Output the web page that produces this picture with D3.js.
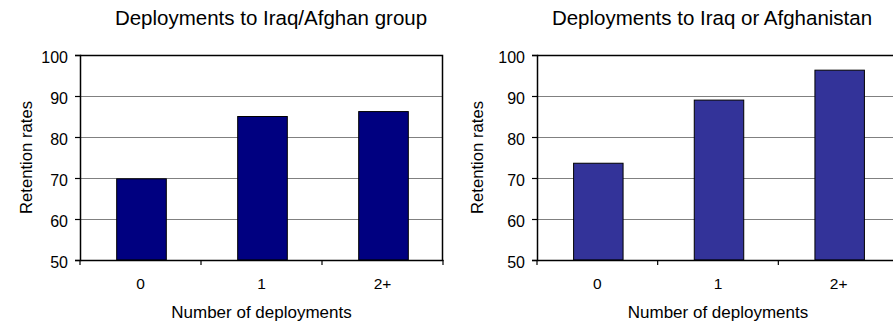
<!DOCTYPE html>
<html>
<head>
<meta charset="utf-8">
<script src="https://cdn.jsdelivr.net/npm/d3@7"></script>
<style>
  html, body { margin: 0; padding: 0; background: #fff; overflow: hidden; }
  svg { display: block; font-family: "Liberation Sans", Arial, sans-serif; }
</style>
</head>
<body>
<svg id="chart" width="893" height="328"></svg>
<script>
// Retention rates by number of deployments
const categories = ["0", "1", "2+"];
const groupValues = [69.8, 85.0, 86.2];       // Deployments to Iraq/Afghan group
const eitherValues = [73.6, 89.0, 96.3];      // Deployments to Iraq or Afghanistan
const yTicks = [50, 60, 70, 80, 90, 100];
const titles = ["Deployments to Iraq/Afghan group", "Deployments to Iraq or Afghanistan"];
const xTitle = "Number of deployments";
const yTitle = "Retention rates";

const svg = d3.select("#chart");

const panels = [
  { title: titles[0], values: groupValues, color: "#000080", left: 80, right: 443, titleX: 271, yTitleX: 32 },
  { title: titles[1], values: eitherValues, color: "#333399", left: 537, right: 899, titleX: 712, yTitleX: 483 }
];

const plotTop = 55, plotBottom = 260;

panels.forEach(p => {
  const w = p.right - p.left;
  const h = plotBottom - plotTop;
  const g = svg.append("g").attr("transform", `translate(${p.left},${plotTop})`);

  const x = d3.scaleBand().domain(categories).range([0, w]).padding(0);
  const y = d3.scaleLinear().domain([50, 100]).range([h, 0]);

  // horizontal gridlines
  g.append("g")
    .selectAll("line")
    .data(yTicks.filter(v => v > 50 && v < 100))
    .join("line")
    .attr("x1", 0).attr("x2", w)
    .attr("y1", d => Math.round(y(d)) + 0.5).attr("y2", d => Math.round(y(d)) + 0.5)
    .attr("stroke", "#808080").attr("stroke-width", 1.2);

  // bars
  const barFrac = 0.41;
  g.append("g")
    .selectAll("rect")
    .data(p.values)
    .join("rect")
    .attr("x", (d, i) => x(categories[i]) + x.bandwidth() * (1 - barFrac) / 2 + 1)
    .attr("width", x.bandwidth() * barFrac)
    .attr("y", d => y(d))
    .attr("height", d => y(50) - y(d))
    .attr("fill", p.color)
    .attr("stroke", "#000")
    .attr("stroke-width", 1);

  // plot frame: top and right edges
  g.append("path")
    .attr("d", `M0,0.5H${w - 0.5}V${h}`)
    .attr("fill", "none").attr("stroke", "#000").attr("stroke-width", 1.5);

  // y axis
  const yAxis = g.append("g")
    .call(d3.axisLeft(y).tickValues(yTicks).tickSize(5).tickPadding(7).tickFormat(d3.format("d")));
  yAxis.select(".domain").attr("stroke", "#000").attr("stroke-width", 1.5);
  yAxis.selectAll(".tick line").attr("stroke", "#000").attr("stroke-width", 1.2);
  yAxis.selectAll(".tick text")
    .attr("font-size", 16).attr("fill", "#000")
    .attr("dy", "0.45em")
    .attr("font-family", "Liberation Sans, Arial, sans-serif");

  // x axis with category labels
  const xAxis = g.append("g")
    .attr("transform", `translate(0,${h})`)
    .call(d3.axisBottom(x).tickSize(0).tickPadding(18));
  xAxis.select(".domain").attr("stroke", "#000").attr("stroke-width", 1.5);
  xAxis.selectAll(".tick text")
    .attr("font-size", 15.5).attr("fill", "#000")
    .attr("font-family", "Liberation Sans, Arial, sans-serif");

  // x tick marks at category boundaries
  const bounds = categories.map(c => x(c)).concat([w]);
  g.append("g")
    .selectAll("line")
    .data(bounds)
    .join("line")
    .attr("x1", d => d).attr("x2", d => d)
    .attr("y1", h).attr("y2", h + 5)
    .attr("stroke", "#000").attr("stroke-width", 1.2);

  // axis titles
  svg.append("text")
    .attr("x", p.left + w / 2).attr("y", 318)
    .attr("text-anchor", "middle")
    .attr("font-size", 17)
    .text(xTitle);

  svg.append("text")
    .attr("transform", `translate(${p.yTitleX},${plotTop + h / 2}) rotate(-90)`)
    .attr("text-anchor", "middle")
    .attr("font-size", 16.7)
    .text(yTitle);

  // chart title
  svg.append("text")
    .attr("x", p.titleX).attr("y", 25)
    .attr("text-anchor", "middle")
    .attr("font-size", 20.5)
    .text(p.title);
});
</script>
</body>
</html>
